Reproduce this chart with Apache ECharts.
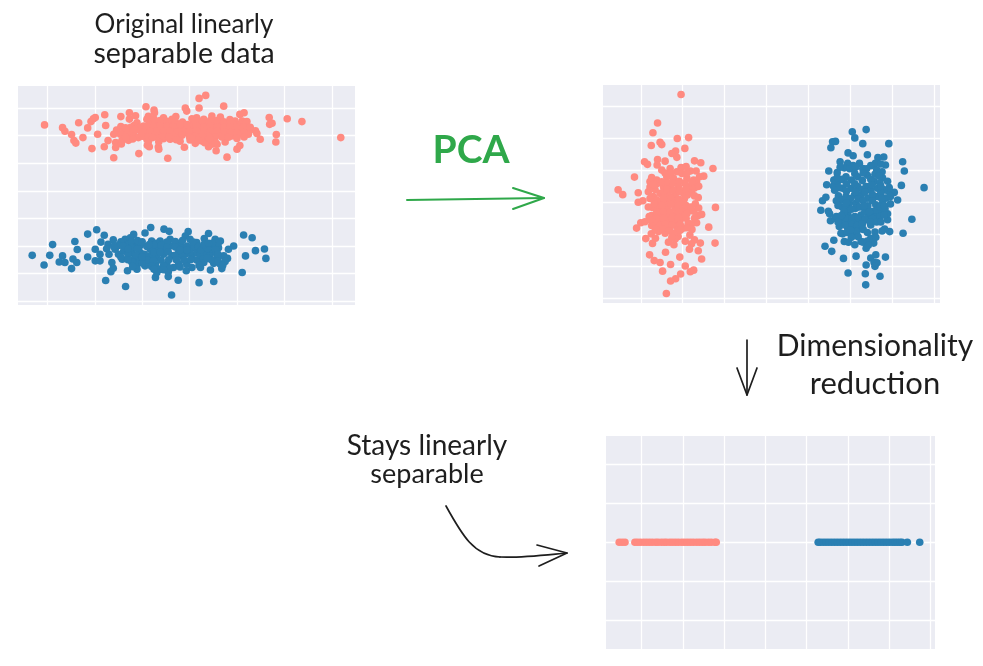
<!DOCTYPE html>
<html>
<head>
<meta charset="utf-8">
<style>html,body{margin:0;padding:0;background:#fff}#chart{width:983px;height:666px}</style>
<script src="https://cdn.jsdelivr.net/npm/echarts@6/dist/echarts.min.js"></script>
</head>
<body>
<div id="chart"></div>
<script>
// original data, class A (top cloud)
var originalA = [[-3.06,2.39],[-2.68,2.29],[-2.63,2.16],[-2.49,2.04],[-2.44,1.82],[-2.40,1.73],[-2.25,1.93],[-2.34,2.47],[-2.15,2.28],[-2.08,2.51],[-2.03,2.61],[-1.99,2.66],[-1.94,2.05],[-2.06,1.53],[-1.79,2.76],[-1.77,2.37],[-1.80,1.60],[-1.72,1.82],[-1.60,1.20],[-1.56,1.75],[-1.56,1.57],[-1.45,2.69],[-1.54,2.20],[-1.45,2.33],[-1.44,1.70],[-1.29,1.83],[-1.27,2.60],[-1.27,2.83],[-1.14,2.72],[-1.17,2.37],[-1.07,1.35],[-0.92,3.05],[-0.75,2.93],[-0.74,2.83],[-0.87,2.70],[-0.89,1.65],[-0.85,1.60],[-0.66,1.59],[-0.65,1.51],[-0.46,1.18],[-0.29,2.69],[-0.15,2.49],[-0.11,1.58],[-0.09,3.00],[-0.06,2.89],[0.20,3.00],[0.20,3.35],[0.34,3.46],[0.72,3.07],[0.56,1.45],[0.79,1.22],[1.00,1.51],[1.06,1.64],[1.06,2.77],[1.15,2.83],[1.68,2.66],[1.69,2.41],[1.74,2.45],[2.06,2.61],[2.37,2.51],[1.83,2.04],[1.82,1.77],[1.49,1.87],[1.39,2.18],[1.42,2.08],[1.25,2.19],[1.24,2.05],[3.19,1.93],
[-0.90,2.59],[-0.55,2.65],[-0.37,2.59],[0.05,2.61],[0.15,2.65],[0.30,2.59],[0.47,2.71],[0.65,2.67],[0.96,2.53],[1.11,2.53],[1.21,2.51],[-1.11,2.47],[-0.97,2.35],[-0.83,2.41],[-0.69,2.45],[-0.55,2.47],[-0.41,2.41],[-0.27,2.35],[0.08,2.47],[0.23,2.41],[0.37,2.41],[0.51,2.47],[0.65,2.41],[0.79,2.37],[0.93,2.41],[1.07,2.41],[-1.39,2.23],[-1.29,2.11],[-1.04,2.17],[-0.90,2.23],[-0.76,2.23],[-0.62,2.25],[-0.48,2.25],[-0.34,2.23],[-0.06,2.23],[0.08,2.25],[0.23,2.23],[0.37,2.23],[0.51,2.25],[0.65,2.23],[0.79,2.23],[0.93,2.20],[1.07,2.17],[-1.46,2.05],[-1.32,2.05],[-1.18,2.01],[-1.08,1.93],[-0.94,2.05],[-0.80,2.08],[-0.65,2.08],[-0.51,2.05],[-0.37,1.99],[-0.23,1.99],[-0.09,2.11],[0.05,2.05],[0.19,2.08],[0.33,2.05],[0.47,2.08],[0.61,2.05],[0.75,2.05],[0.89,1.99],[1.04,2.05],[-1.43,1.81],[-0.90,1.87],[-0.55,1.89],[-0.41,1.87],[0.01,1.84],[0.12,1.72],[0.26,1.81],[0.37,1.81],[0.51,1.87],[0.47,1.69],[0.40,1.60],[0.58,1.69],[0.75,1.77]];
var originalACore = [[-0.80,2.50],[-0.62,2.55],[-0.48,2.52],[-0.30,2.50],[0.12,2.54],[0.26,2.52],[0.44,2.55],[0.58,2.55],[0.72,2.50],[0.86,2.47],[-1.24,2.30],[-1.05,2.30],[-0.90,2.32],[-0.76,2.33],[-0.62,2.35],[-0.48,2.33],[-0.34,2.32],[-0.18,2.30],[0.00,2.35],[0.15,2.33],[0.30,2.32],[0.44,2.33],[0.58,2.32],[0.72,2.31],[0.86,2.32],[1.00,2.30],[1.14,2.32],[-1.18,2.14],[-0.97,2.13],[-0.83,2.15],[-0.69,2.16],[-0.55,2.17],[-0.41,2.15],[-0.27,2.12],[-0.16,2.12],[0.00,2.15],[0.15,2.15],[0.30,2.15],[0.44,2.16],[0.58,2.15],[0.72,2.14],[0.86,2.12],[1.00,2.10],[1.15,2.11],[-1.00,1.98],[-0.87,1.96],[-0.72,1.97],[-0.58,1.96],[-0.44,1.96],[-0.30,1.93],[-0.16,2.01],[0.00,1.95],[0.12,1.97],[0.26,1.96],[0.40,1.97],[0.54,1.96],[0.68,1.95],[0.82,1.94],[-0.87,1.78],[-0.78,1.93],[0.08,1.88],[0.32,1.74],[0.54,1.78],[0.42,1.90],[0.19,1.82],
[-1.60,2.05],[-1.35,2.28],[-1.35,1.95],[-1.20,1.88],[-1.15,2.22],[1.28,2.30],[1.15,1.95],[1.00,1.90],[0.85,2.58],[-0.75,2.60],[-0.20,2.40],[-0.05,2.40],[-0.20,1.80],[-0.65,1.78],[-0.28,1.85]];

// original data, class B (bottom cloud)
var originalB = [[-3.32,-2.34],[-3.07,-2.69],[-2.95,-2.34],[-2.89,-1.95],[-2.68,-2.36],[-2.75,-2.58],[-2.63,-2.60],[-2.46,-2.47],[-2.38,-2.60],[-2.49,-2.82],[-2.42,-1.84],[-2.37,-2.13],[-2.15,-1.57],[-1.96,-1.41],[-2.15,-2.40],[-1.99,-2.12],[-1.99,-2.54],[-1.89,-2.54],[-1.89,-2.30],[-1.80,-1.61],[-1.87,-1.86],[-1.77,-3.25],[-1.64,-2.60],[-1.66,-2.93],[-1.61,-2.81],[-1.35,-3.47],[-1.31,-2.90],[-1.42,-2.48],[-0.82,-1.33],[-0.94,-1.53],[-0.54,-1.39],[-0.43,-1.47],[-0.38,-3.78],[-0.24,-3.24],[-0.72,-3.14],[-0.45,-3.11],[-0.03,-1.48],[0.20,-3.33],[0.51,-3.29],[0.40,-1.55],[0.31,-1.73],[1.14,-1.60],[1.32,-1.70],[1.39,-2.17],[1.58,-2.11],[1.61,-2.45],[1.18,-2.36],[1.11,-2.96],[0.93,-2.00],[0.82,-2.12],[0.80,-2.45],[0.68,-2.82],[0.44,-2.87],[0.23,-2.78],[-0.07,-2.90],
[-1.61,-1.78],[-1.72,-1.94],[-1.57,-2.12],[-1.36,-1.76],[-1.18,-1.58],[-1.25,-1.70],[-1.29,-1.94],[-1.15,-1.94],[-1.04,-1.98],[-1.39,-2.18],[-1.22,-2.24],[-1.04,-2.24],[-1.18,-2.48],[-1.11,-2.66],[-1.11,-2.84],[-0.94,-2.72],[-0.80,-1.82],[-0.62,-1.82],[-0.41,-1.76],[-0.09,-1.64],[0.01,-1.76],[0.15,-1.88],[0.54,-1.76],[0.65,-1.82],[-0.83,-2.12],[-0.69,-2.06],[-0.55,-2.12],[-0.41,-2.00],[-0.23,-1.94],[-0.13,-2.06],[0.05,-2.06],[0.51,-2.00],[0.61,-2.06],[-0.83,-2.36],[-0.69,-2.42],[-0.55,-2.30],[-0.37,-2.36],[-0.23,-2.24],[-0.09,-2.30],[0.05,-2.36],[0.15,-2.24],[0.33,-2.30],[0.47,-2.24],[0.58,-2.42],[0.72,-2.36],[-0.87,-2.66],[-0.72,-2.66],[-0.62,-2.84],[-0.48,-2.66],[-0.34,-2.78],[-0.23,-2.66],[-0.06,-2.66],[0.05,-2.78],[0.15,-2.51],[0.51,-2.63],[0.65,-2.66],[-0.45,-2.94],[-0.69,-2.96]];
var originalBCore = [[-1.45,-1.85],[-1.22,-1.84],[-1.10,-1.80],[-0.70,-1.90],[-0.48,-1.86],[-0.30,-1.84],[-0.15,-1.80],[0.08,-1.86],[0.60,-1.90],[-1.50,-1.98],[-1.40,-2.00],[-1.22,-2.06],[-1.10,-2.10],[-0.90,-2.02],[-0.75,-1.96],[-0.60,-1.98],[-0.48,-2.05],[-0.30,-2.04],[-0.05,-2.00],[0.18,-2.02],[0.48,-1.90],[0.55,-2.14],[-1.30,-2.30],[-1.12,-2.34],[-0.95,-2.30],[-0.75,-2.24],[-0.62,-2.22],[-0.45,-2.22],[-0.30,-2.34],[-0.15,-2.38],[0.00,-2.22],[0.22,-2.34],[0.42,-2.36],[0.60,-2.30],[-1.22,-2.58],[-1.05,-2.52],[-0.90,-2.50],[-0.76,-2.54],[-0.60,-2.52],[-0.44,-2.50],[-0.28,-2.50],[-0.12,-2.52],[0.02,-2.50],[0.28,-2.48],[0.46,-2.50],[0.60,-2.54],[0.75,-2.56],[-1.00,-2.62],[-0.80,-2.74],[-0.55,-2.72],[-0.42,-2.82],[-0.20,-2.76],[-0.55,-2.86],[-0.75,-2.84],[0.70,-2.70],
[-1.50,-2.30],[-1.60,-2.02],[-1.45,-2.40],[-1.30,-2.10],[-1.30,-2.50],[-1.00,-2.40],[-1.00,-1.85],[-1.70,-2.30],[-1.75,-2.10],[-1.20,-2.75],[-0.85,-1.95],[-0.20,-2.15],[0.25,-2.15],[0.38,-2.10],[0.30,-1.95],[0.40,-1.90],[0.30,-2.60],[0.20,-2.70],[0.38,-2.45],[-0.05,-2.15]];

// after PCA
var pcaA = [[-2.04,3.38],[-2.60,2.49],[-2.71,2.18],[-2.75,1.78],[-2.54,1.88],[-2.50,1.81],[-2.13,2.00],[-1.86,2.03],[-1.95,1.69],[-2.17,1.61],[-2.26,1.53],[-2.14,1.41],[-2.91,1.27],[-2.84,1.19],[-2.60,1.34],[-2.61,1.17],[-2.42,1.29],[-1.72,1.30],[-1.57,1.24],[-1.28,1.06],[-3.15,0.79],[-1.50,0.82],[-1.82,0.98],[-2.04,1.09],[-3.54,0.39],[-3.43,0.24],[-3.06,0.30],[-3.06,0.00],[-2.95,0.05],[-1.63,0.15],[-1.22,-0.16],[-2.78,0.65],[-2.74,0.78],[-2.82,0.33],[-2.70,0.18],[-2.54,0.00],[-2.72,-0.16],[-2.74,-0.42],[-3.00,-0.64],[-2.90,-0.61],[-3.10,-0.81],[-2.74,-0.73],[-1.55,-0.38],[-1.64,-0.42],[-1.67,-0.64],[-1.38,-0.78],[-1.87,-0.66],[-2.88,-1.14],[-2.75,-0.99],[-2.65,-1.13],[-2.72,-1.29],[-1.23,-1.28],[-1.58,-1.28],[-1.83,-1.03],[-1.72,-1.18],[-1.79,-1.30],[-1.84,-1.47],[-1.63,-1.52],[-1.55,-1.78],[-2.79,-1.65],[-2.41,-1.57],[-2.07,-1.72],[-2.68,-1.83],[-2.54,-1.89],[-2.29,-1.95],[-1.94,-2.00],[-2.48,-2.16],[-1.82,-2.18],[-1.74,-2.13],[-2.05,-2.25],[-2.17,-2.40],[-2.29,-2.47],[-2.39,-2.86],[-2.34,-1.25],[-2.21,-1.33],[-2.11,-1.07],[-1.94,-1.22],[-2.58,-0.92],[-2.42,-0.97],
[-2.50,1.01],[-2.30,1.06],[-2.14,0.96],[-2.38,0.80],[-2.22,0.75],[-2.62,0.70],[-1.90,0.75],[-1.74,0.70],[-1.82,0.49],[-1.67,0.65],[-2.46,0.49],[-2.30,0.44],[-2.10,0.49],[-2.54,0.28],[-2.34,0.23],[-2.18,0.23],[-1.98,0.28],[-1.79,0.33],[-1.89,0.23],[-2.38,0.02],[-2.18,0.02],[-2.02,-0.03],[-2.58,-0.19],[-2.38,-0.19],[-2.18,-0.19],[-1.98,-0.24],[-1.82,-0.26],[-2.54,-0.40],[-2.38,-0.40],[-2.18,-0.40],[-2.00,-0.40],[-2.50,-0.60],[-2.34,-0.60],[-2.18,-0.60],[-2.06,-0.55],[-2.62,-0.71],[-2.38,-0.81],[-2.14,-0.76],[-1.98,-0.81],[-2.13,-0.92]];
var pcaACore = [[-2.42,0.92],[-2.28,0.92],[-2.02,0.90],[-1.90,0.92],[-2.62,0.58],[-2.50,0.64],[-2.36,0.62],[-2.22,0.60],[-2.08,0.66],[-1.95,0.60],[-1.78,0.62],[-2.66,0.40],[-2.46,0.33],[-2.38,0.42],[-2.22,0.38],[-2.08,0.34],[-1.93,0.42],[-2.62,0.08],[-2.46,0.12],[-2.28,0.12],[-2.10,0.10],[-1.96,0.12],[-2.36,-0.10],[-2.50,-0.10],[-2.28,-0.06],[-2.10,-0.10],[-1.92,-0.10],[-1.98,0.00],[-2.62,-0.32],[-2.46,-0.30],[-2.30,-0.30],[-2.10,-0.30],[-1.90,-0.35],[-1.74,-0.28],[-2.62,-0.50],[-2.46,-0.50],[-2.26,-0.50],[-2.10,-0.48],[-1.92,-0.50],[-2.70,-0.62],[-2.54,-0.72],[-2.42,-0.70],[-2.26,-0.72],[-2.06,-0.70],[-1.80,-0.68],[-2.50,-0.84],[-2.30,-0.90],[-2.22,-0.98],[-2.06,-0.88],[-2.18,-1.15],[-2.26,-1.10],
[-2.78,0.48],[-2.70,0.55],[-2.78,0.12],[-2.68,-0.05],[-2.82,-0.15],[-2.80,-0.45],[-1.72,0.45],[-1.62,0.50],[-1.72,0.20],[-1.70,-0.05],[-1.62,-0.18],[-1.80,-0.15],[-1.72,-0.50],[-1.78,-0.85],[-1.90,-0.80],[-1.68,0.98],[-1.60,0.80],[-2.65,-0.85],[-2.78,-0.55],[-1.92,1.12]];

var pcaB = [[2.04,2.21],[2.37,2.28],[2.10,2.02],[2.29,1.84],[2.91,1.84],[1.57,1.90],[1.64,1.91],[1.53,1.71],[1.94,1.55],[2.06,1.46],[2.40,1.49],[2.79,1.42],[2.65,1.40],[3.24,1.27],[3.28,0.98],[1.48,0.98],[1.68,0.93],[2.83,1.17],[1.75,1.27],[1.93,1.22],[2.21,1.22],[2.59,1.22],[2.29,1.06],[2.75,0.96],[2.76,0.77],[2.88,0.66],[3.21,0.53],[3.75,0.46],[1.43,0.55],[1.59,0.51],[1.33,0.05],[1.41,0.16],[1.29,-0.25],[1.47,-0.28],[1.50,-0.36],[3.04,0.31],[3.12,0.07],[3.46,-0.53],[3.25,-0.97],[2.88,-0.55],[2.88,-0.36],[2.93,-0.92],[2.81,-0.84],[2.75,-0.90],[2.48,-0.71],[2.58,-0.93],[1.52,-0.58],[1.63,-0.50],[1.39,-1.38],[1.55,-1.54],[1.60,-1.19],[1.83,-1.76],[2.13,-1.69],[1.85,-1.23],[1.77,-0.97],[2.10,-1.33],[2.37,-1.44],[2.55,-1.28],[2.48,-1.13],[2.25,-1.23],[2.60,-1.65],[2.48,-1.75],[2.83,-1.72],[2.37,-1.97],[2.56,-1.89],[2.63,-1.90],[2.58,-2.01],[1.94,-2.22],[2.35,-2.24],[2.70,-2.32],[2.36,-2.59],
[1.69,0.65],[1.89,0.80],[2.17,0.80],[2.40,0.85],[2.56,0.65],[1.81,0.44],[2.01,0.44],[2.17,0.49],[2.37,0.49],[2.64,0.44],[2.80,0.39],[2.96,0.28],[1.71,0.20],[1.89,0.18],[2.09,0.23],[2.25,0.23],[2.41,0.13],[2.64,0.18],[2.84,0.13],[1.79,-0.14],[1.97,-0.03],[2.13,-0.03],[2.41,-0.11],[2.60,-0.08],[2.76,-0.03],[2.12,-0.19],[2.52,-0.29],[2.72,-0.29],[1.94,-0.40],[2.10,-0.45],[2.25,-0.40],[2.41,-0.45],[2.60,-0.45],[1.81,-0.60],[1.97,-0.60],[2.13,-0.60],[2.29,-0.55],[1.73,-0.76],[1.93,-0.81],[2.09,-0.81],[2.21,-0.76],[2.09,-0.99],[1.81,-0.99]];
var pcaBCore = [[1.85,1.08],[2.06,1.15],[2.48,1.15],[2.72,1.20],[1.80,0.72],[2.02,0.70],[2.28,0.68],[2.48,0.72],[2.70,0.60],[1.60,0.70],[1.72,0.46],[1.90,0.58],[2.10,0.58],[2.28,0.40],[2.48,0.38],[2.72,0.30],[2.90,0.35],[1.80,0.08],[2.00,0.12],[2.18,0.10],[2.34,0.32],[2.52,0.24],[2.74,0.12],[2.95,0.18],[1.90,-0.20],[2.02,-0.22],[2.22,-0.15],[2.34,-0.28],[2.62,-0.25],[2.82,-0.20],[2.70,-0.15],[1.88,-0.48],[2.03,-0.52],[2.18,-0.48],[2.34,-0.55],[2.52,-0.50],[2.70,-0.45],[1.88,-0.72],[2.03,-0.70],[2.16,-0.72],[2.28,-0.68],[1.92,-0.95],[2.15,-0.92],[2.30,-1.25],[2.40,-1.22],[2.00,-0.88],
[1.75,1.10],[1.98,1.05],[2.12,1.10],[2.38,1.05],[2.62,1.02],[1.68,0.78],[2.10,0.90],[2.30,0.92],[2.58,0.88],[2.68,0.82],[1.90,0.35],[2.12,0.33],[2.50,0.55],[2.72,0.50],[2.92,0.46],[1.62,0.38],[1.66,0.05],[1.90,-0.02],[2.30,0.05],[2.52,0.05],[2.95,-0.05],[1.70,-0.10],[1.84,-0.30],[2.32,-0.12],[2.45,-0.30],[2.80,-0.10],[2.80,-0.40],[1.66,-0.45],[1.78,-0.42],[2.46,-0.62],[2.62,-0.62],[2.72,-0.62],[1.70,-0.62],[2.30,-0.85],[2.40,-0.95],[2.18,-1.08],[2.02,-1.10],[1.95,-1.25],[2.60,-1.10],[2.42,-1.35]];

// after dimensionality reduction, first component only
var reducedA = [-3.54,-3.47,-3.40,-3.16,-3.10,-3.03,-2.95,-2.88,-2.81,-2.74,-2.66,-2.60,-2.52,-2.45,-2.39,-2.31,-2.24,-2.17,-2.10,-2.02,-1.95,-1.88,-1.81,-1.74,-1.66,-1.59,-1.52,-1.46,-1.38,-1.31,-1.22,-1.19];
var reducedB = [1.28,1.33,1.40,1.47,1.54,1.61,1.68,1.75,1.82,1.89,1.96,2.03,2.10,2.17,2.24,2.31,2.38,2.45,2.52,2.59,2.66,2.73,2.80,2.87,2.94,3.01,3.08,3.14,3.20,3.26,3.31,3.44,3.74];

var RED = '#ff8a80', BLUE = '#2a7fb2', INK = '#1e1e1e', GREEN = '#2fa84a';
var FONT = 'Lato';

var myChart = echarts.init(document.getElementById('chart'));

function makeAxis(index, min, max, count) {
    return {
        type: 'value', gridIndex: index, min: min, max: max, splitNumber: count,
        axisLine: {show: false}, axisTick: {show: false}, axisLabel: {show: false},
        splitLine: {show: true, showMinLine: false, showMaxLine: false, lineStyle: {color: '#fff', width: 1.3}}
    };
}

function makePanel(left, top, width, height) {
    return {left: left, top: top, width: width, height: height, show: true, backgroundColor: '#ebecf3', borderWidth: 0};
}

function makeDots(index, data, color) {
    return {type: 'scatter', xAxisIndex: index, yAxisIndex: index, data: data, symbolSize: 7.6,
        itemStyle: {color: color, opacity: 1}, silent: true, animation: false};
}

function flat(values) {
    return values.map(function (v) { return [v, 0]; });
}

function label(text, x, y, size, color, weight) {
    return {type: 'text', x: x, y: y, silent: true, style: {
        text: text, fill: color || INK, font: (weight || 'normal') + ' ' + size + 'px ' + FONT,
        textAlign: 'center', textVerticalAlign: 'middle'
    }};
}

function stroke(points, color, width) {
    return {type: 'polyline', silent: true, shape: {points: points},
        style: {fill: null, stroke: color, lineWidth: width, lineCap: 'round', lineJoin: 'round'}};
}

function curve(s, color, width) {
    return {type: 'bezierCurve', silent: true, shape: s,
        style: {fill: null, stroke: color, lineWidth: width, lineCap: 'round'}};
}

var option = {
    animation: false,
    grid: [makePanel(18, 86, 337, 219), makePanel(603, 85, 337, 218), makePanel(606, 436, 329, 213)],
    xAxis: [makeAxis(0, -3.62, 3.49, 7), makeAxis(1, -3.90, 4.13, 8), makeAxis(2, -3.86, 4.11, 8)],
    yAxis: [makeAxis(0, -4.14, 3.80, 8), makeAxis(1, -3.16, 3.68, 6), makeAxis(2, -2.74, 2.73, 5)],
    series: [
        makeDots(0, originalA.concat(originalACore), RED), makeDots(0, originalB.concat(originalBCore), BLUE),
        makeDots(1, pcaA.concat(pcaACore), RED), makeDots(1, pcaB.concat(pcaBCore), BLUE),
        makeDots(2, flat(reducedA), RED), makeDots(2, flat(reducedB), BLUE)
    ],
    graphic: [
        label('Original linearly', 184, 25, 26),
        label('separable data', 184, 54, 28.5),
        label('PCA', 471, 150, 39, GREEN, 'bold'),
        label('Dimensionality', 875, 346, 30),
        label('reduction', 875, 384, 31),
        label('Stays linearly', 427, 446, 28),
        label('separable', 427, 474, 27),
        // green arrow
        stroke([[407, 200], [544, 198]], GREEN, 2),
        stroke([[513, 188], [544, 198], [513, 209]], GREEN, 2),
        // down arrow
        stroke([[747, 340], [747, 395]], INK, 1.7),
        stroke([[737, 368], [747, 395], [757, 368]], INK, 1.7),
        // curved arrow
        curve({x1: 446, y1: 506, cpx1: 462, cpy1: 535, cpx2: 474, cpy2: 556, x2: 500, y2: 557}, INK, 1.7),
        curve({x1: 500, y1: 557, cpx1: 520, cpy1: 558, cpx2: 545, cpy2: 555, x2: 567, y2: 553}, INK, 1.7),
        stroke([[537, 545], [567, 553], [539, 566]], INK, 1.7)
    ]
};
myChart.setOption(option);
</script>
</body>
</html>
